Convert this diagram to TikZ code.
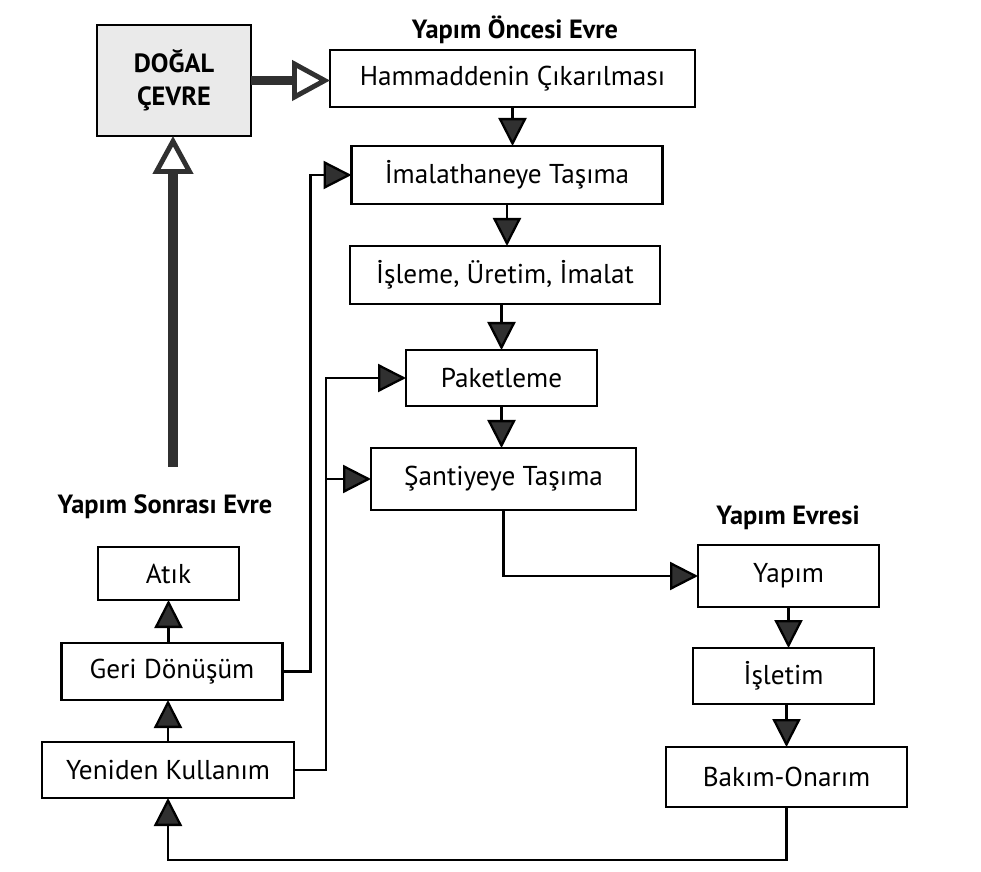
\documentclass[tikz,border=0pt]{standalone}
\usepackage{fontspec}
\setmainfont{PT Sans}
\usetikzlibrary{positioning,calc,arrows.meta}
\definecolor{mygrey}{RGB}{234,234,234}
\definecolor{mydarkgrey}{RGB}{48,48,48}
\begin{document}
\begin{tikzpicture}[outer sep=0pt,
            kutu/.style={
                draw=black,
                line width=1.3pt,
                fill=white,
                inner sep=0pt,
                align=center,
                font=\fontsize{15.5}{18}\selectfont},
            dogalb/.style={kutu,fill=mygrey,font=\fontsize{15}{19}\selectfont\bfseries},
            baslik/.style={font=\fontsize{15}{18}\selectfont\bfseries},
            ok/.style={line width=1.3pt,
                -{Triangle[width=0.56cm,length=0.56cm,fill=mydarkgrey]}},
            kalinok/.style={line width=5.5pt,draw=mydarkgrey,
                -{Triangle[width=0.8cm,length=0.76cm,fill=white,line width=2.8pt]}},
        ]
        \useasboundingbox (0,0) rectangle (19.62,-17.44);

        % dogal cevre
        \node[dogalb,minimum width=3.08cm,minimum height=2.22cm] (Dogal) at (3.48,-1.61) {DOĞAL\\ÇEVRE};

        % yapim oncesi evre
        \node[baslik] (OncesiT) at (10.3,-0.6) {Yapım Öncesi Evre};
        \node[kutu,minimum width=7.3cm,minimum height=1.14cm] (Hammadde) at (10.25,-1.57) {Hammaddenin Çıkarılması};
        \node[kutu,minimum width=6.22cm,minimum height=1.16cm] (ImalTasima) at (10.14,-3.5) {İmalathaneye Taşıma};
        \node[kutu,minimum width=6.2cm,minimum height=1.16cm] (Isleme) at (10.1,-5.5) {İşleme, Üretim, İmalat};
        \node[kutu,minimum width=3.82cm,minimum height=1.12cm] (Paket) at (10.03,-7.56) {Paketleme};
        \node[kutu,minimum width=5.3cm,minimum height=1.24cm] (Santiye) at (10.07,-9.58) {Şantiyeye Taşıma};

        % yapim evresi
        \node[baslik] (EvresiT) at (15.76,-10.36) {Yapım Evresi};
        \node[kutu,minimum width=3.62cm,minimum height=1.24cm] (Yapim) at (15.77,-11.52) {Yapım};
        \node[kutu,minimum width=3.62cm,minimum height=1.12cm] (Isletim) at (15.67,-13.52) {İşletim};
        \node[kutu,minimum width=4.82cm,minimum height=1.2cm] (Bakim) at (15.73,-15.54) {Bakım-Onarım};

        % yapim sonrasi evre
        \node[baslik] (SonrasiT) at (3.3,-10.14) {Yapım Sonrası Evre};
        \node[kutu,minimum width=2.82cm,minimum height=1.06cm] (Atik) at (3.37,-11.47) {Atık};
        \node[kutu,minimum width=4.42cm,minimum height=1.14cm] (GeriDon) at (3.44,-13.43) {Geri Dönüşüm};
        \node[kutu,minimum width=5.04cm,minimum height=1.12cm] (Yeniden) at (3.36,-15.4) {Yeniden Kullanım};

        \coordinate (KalinUc) at (3.46,-9.34);

        % kalin oklar
        \draw[kalinok] (Dogal) -- (Dogal -| Hammadde.west);
        \draw[kalinok] (KalinUc) -- (KalinUc |- Dogal.south);

        % akis
        \draw[ok] (Hammadde.south) -- (Hammadde.south |- ImalTasima.north);
        \draw[ok] (ImalTasima.south) -- (ImalTasima.south |- Isleme.north);
        \draw[ok] (Paket.north |- Isleme.south) -- (Paket.north);
        \draw[ok] (Paket.south) -- (Paket.south |- Santiye.north);
        \draw[ok] (Santiye.south) |- (Yapim.west);
        \draw[ok] (Yapim.south) -- (Yapim.south |- Isletim.north);
        \draw[ok] (Bakim.north |- Isletim.south) -- (Bakim.north);
        \draw[ok] (Bakim.south) -- ++(0,-1.06) -| (Yeniden.south);
        \draw[ok] (Yeniden.north) -- (Yeniden.north |- GeriDon.south);
        \draw[ok] (GeriDon.north -| Atik.south) -- (Atik.south);

        % geri donusler
        \draw[ok] (GeriDon.east) -- ++(0.56,0) |- (ImalTasima.west);
        \draw[ok] (Yeniden.east) -- ++(0.64,0) |- (Paket.west);
        \draw[ok] (Yeniden.east) -- ++(0.64,0) |- (Santiye.west);
    \end{tikzpicture}
\end{document}
